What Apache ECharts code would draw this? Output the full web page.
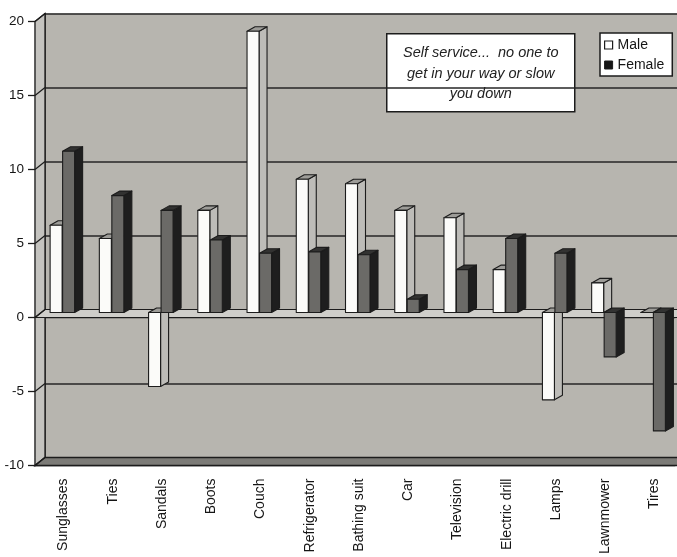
<!DOCTYPE html>
<html>
<head>
<meta charset="utf-8">
<script src="https://cdn.jsdelivr.net/npm/echarts@6/dist/echarts.min.js"></script>
<style>
  html, body { margin: 0; padding: 0; background: #ffffff; }
  #chart { width: 677px; height: 557px; }
</style>
</head>
<body>
<div id="chart"></div>
<script>
// Purchase categories along the bottom axis
const categories = ['Sunglasses', 'Ties', 'Sandals', 'Boots', 'Couch', 'Refrigerator',
  'Bathing suit', 'Car', 'Television', 'Electric drill', 'Lamps', 'Lawnmower', 'Tires'];

// Values per series
const maleValues   = [5.9, 5.0, -5.0, 6.9, 19.0, 9.0, 8.7, 6.9, 6.4, 2.9, -5.9, 2.0, 0];
const femaleValues = [10.9, 7.9, 6.9, 4.9, 4.0, 4.1, 3.9, 0.9, 2.9, 5.0, 4.0, -3.0, -8.0];

// Value axis ticks
const yTicks = [-10, -5, 0, 5, 10, 15, 20];

// Callout text
const noteLines = ['Self service...  no one to', 'get in your way or slow', 'you down'];

const FONT = '"Liberation Sans", Arial, Helvetica, sans-serif';
const INK = '#1c1c1c';

// Pseudo-3D geometry: back wall offset and bar depth
const WALL_DX = 10, WALL_DY = -8;
const BAR_DX = 8, BAR_DY = -4.5;
const BAR_PLANE_DY = -5;
const BAR_W = 12;

const maleFaces   = { front: '#fbfbf9', side: '#bdbcb8', top: '#9d9c98' };
const femaleFaces = { front: '#6b6a67', side: '#1e1e1e', top: '#323231' };

function barRenderer(offsetX, faces) {
  return function (params, api) {
    const i = api.value(0);
    const v = api.value(1);
    const p = api.coord([i, v]);
    const b = api.coord([i, 0]);
    const x0 = p[0] + offsetX;
    const x1 = x0 + BAR_W;
    const yv = p[1] + BAR_PLANE_DY;
    const yb = b[1] + BAR_PLANE_DY;
    const yT = Math.min(yv, yb);
    const yB = Math.max(yv, yb);
    const line = { stroke: INK, lineWidth: 1.1, lineJoin: 'round' };
    return {
      type: 'group',
      children: [
        { type: 'polygon',
          shape: { points: [[x1, yB], [x1, yT], [x1 + BAR_DX, yT + BAR_DY], [x1 + BAR_DX, yB + BAR_DY]] },
          style: Object.assign({ fill: faces.side }, line) },
        { type: 'polygon',
          shape: { points: [[x0, yT], [x0 + BAR_DX, yT + BAR_DY], [x1 + BAR_DX, yT + BAR_DY], [x1, yT]] },
          style: Object.assign({ fill: faces.top }, line) },
        { type: 'rect',
          shape: { x: x0, y: yT, width: BAR_W, height: yB - yT },
          style: Object.assign({ fill: faces.front }, line) }
      ]
    };
  };
}

// Side wall, floor planes and tick connectors of the 3D frame
function frameRenderer(params, api) {
  const cs = params.coordSys;
  const left = cs.x;
  const right = cs.x + cs.width;
  const yAt = function (v) { return api.coord([0, v])[1]; };
  const yMin = yTicks[0], yMax = yTicks[yTicks.length - 1];
  const children = [];

  children.push({
    type: 'polygon',
    shape: { points: [[left, yAt(yMax)], [left + WALL_DX, yAt(yMax) + WALL_DY],
                      [left + WALL_DX, yAt(yMin) + WALL_DY], [left, yAt(yMin)]] },
    style: { fill: '#c4c3bf', stroke: INK, lineWidth: 1.3 }
  });

  const yf = yAt(yMin);
  children.push({
    type: 'polygon',
    shape: { points: [[left, yf], [left + WALL_DX, yf + WALL_DY],
                      [right + WALL_DX + 4, yf + WALL_DY], [right + 4, yf]] },
    style: { fill: '#7c7b77', stroke: INK, lineWidth: 1.3 }
  });

  const y0 = yAt(0);
  children.push({
    type: 'polygon',
    shape: { points: [[left, y0], [left + WALL_DX, y0 + WALL_DY],
                      [right + WALL_DX + 4, y0 + WALL_DY], [right + 4, y0]] },
    style: { fill: '#cfceca', stroke: INK, lineWidth: 1.2 }
  });

  yTicks.forEach(function (t) {
    const y = yAt(t);
    children.push({
      type: 'line',
      shape: { x1: left, y1: y, x2: left + WALL_DX, y2: y + WALL_DY },
      style: { stroke: INK, lineWidth: 1.2 }
    });
  });

  return { type: 'group', children: children };
}

const chart = echarts.init(document.getElementById('chart'), null, { renderer: 'canvas' });

chart.setOption({
  animation: false,
  backgroundColor: '#ffffff',
  grid: [
    // front plane: axes and bars
    { left: 35, right: 2, top: 21.5, height: 444.5, containLabel: false },
    // back wall
    { left: 45, right: 0, top: 13.5, height: 444.5, containLabel: false,
      show: true, backgroundColor: '#b7b5af', borderWidth: 0 }
  ],
  xAxis: [
    { type: 'category', gridIndex: 0, data: categories, position: 'bottom',
      axisLine: { onZero: false, lineStyle: { color: INK, width: 1.3 } },
      axisTick: { length: 6, lineStyle: { color: INK, width: 1.3 } },
      axisLabel: { rotate: 90, fontSize: 14, color: '#151515', fontFamily: FONT, margin: 13,
                   interval: 0, verticalAlign: 'top', lineHeight: 8 },
      splitLine: { show: false } },
    { type: 'category', gridIndex: 0, data: categories, position: 'top',
      axisLine: { onZero: true, lineStyle: { color: INK, width: 1.3 } },
      axisTick: { inside: true, length: 6, lineStyle: { color: INK, width: 1.3 } },
      axisLabel: { show: false },
      splitLine: { show: false } },
    { type: 'category', gridIndex: 1, data: categories, show: false }
  ],
  yAxis: [
    { type: 'value', gridIndex: 0, min: -10, max: 20, interval: 5,
      axisLine: { show: true, lineStyle: { color: INK, width: 1.3 } },
      axisTick: { show: true, length: 7, lineStyle: { color: INK, width: 1.3 } },
      axisLabel: { fontSize: 13.5, color: '#151515', fontFamily: FONT, margin: 11,
                   formatter: function (v) { return String(v); } },
      splitLine: { show: false } },
    { type: 'value', gridIndex: 1, min: -10, max: 20, interval: 5,
      axisLine: { show: true, lineStyle: { color: INK, width: 1.5 } },
      axisTick: { show: false },
      axisLabel: { show: false },
      splitLine: { show: true, lineStyle: { color: '#262626', width: 1.6 } } }
  ],
  legend: {
    orient: 'vertical',
    left: 600, top: 33,
    icon: 'rect',
    itemWidth: 8, itemHeight: 8, itemGap: 6,
    padding: [5, 8, 4, 4],
    backgroundColor: '#ffffff',
    borderColor: INK, borderWidth: 1.5, borderRadius: 0,
    selectedMode: false,
    textStyle: { fontSize: 14, color: '#151515', fontFamily: FONT },
    data: [
      { name: 'Male', itemStyle: { color: '#ffffff', borderColor: INK, borderWidth: 1.2 } },
      { name: 'Female', itemStyle: { color: '#161616', borderColor: INK, borderWidth: 1 } }
    ]
  },
  graphic: [
    { type: 'group', left: 386, top: 33, z: 50,
      children: [
        { type: 'rect', shape: { x: 0, y: 0, width: 188, height: 78 },
          style: { fill: '#ffffff', stroke: INK, lineWidth: 1.5 } },
        { type: 'text', x: 94, y: 40,
          style: { text: noteLines.join('\n'), fontSize: 14.5, fontStyle: 'italic',
                   fontFamily: FONT, align: 'center', verticalAlign: 'middle',
                   lineHeight: 20.5, fill: '#222222' } }
      ] }
  ],
  series: [
    { name: 'frame', type: 'custom', xAxisIndex: 0, yAxisIndex: 0, clip: false,
      silent: true, z: 1, legendHoverLink: false,
      renderItem: frameRenderer, data: [[0, 0]] },
    { name: 'Male', type: 'custom', xAxisIndex: 0, yAxisIndex: 0, clip: false, z: 3,
      itemStyle: { color: '#ffffff', borderColor: INK },
      encode: { x: 0, y: 1 },
      renderItem: barRenderer(-9.5, maleFaces),
      data: categories.map(function (c, i) { return [i, maleValues[i]]; }) },
    { name: 'Female', type: 'custom', xAxisIndex: 0, yAxisIndex: 0, clip: false, z: 4,
      itemStyle: { color: '#161616' },
      encode: { x: 0, y: 1 },
      renderItem: barRenderer(3, femaleFaces),
      data: categories.map(function (c, i) { return [i, femaleValues[i]]; }) }
  ]
});
</script>
</body>
</html>
